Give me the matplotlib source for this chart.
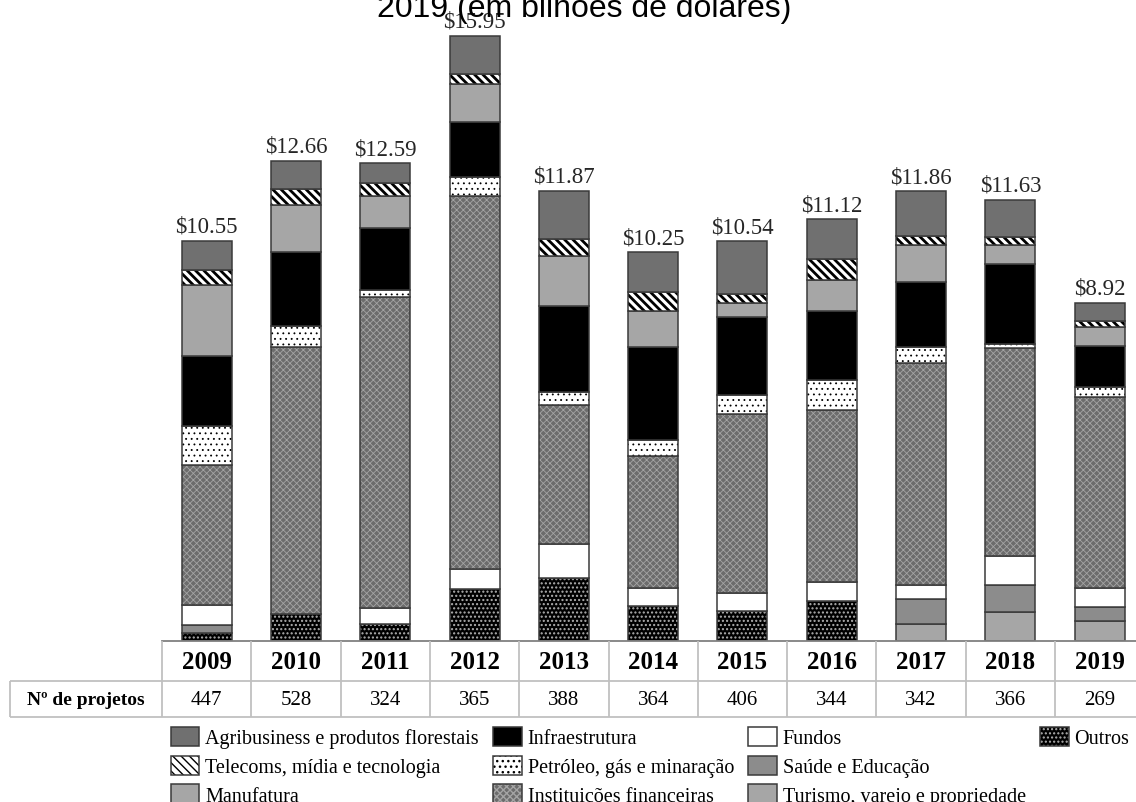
import matplotlib.pyplot as plt
from matplotlib.patches import Rectangle
import numpy as np

# data (values in US$ billions)
anos = ['2009', '2010', '2011', '2012', '2013', '2014', '2015', '2016', '2017', '2018', '2019']
projetos = [447, 528, 324, 365, 388, 364, 406, 344, 342, 366, 269]
totais = [10.55, 12.66, 12.59, 15.95, 11.87, 10.25, 10.54, 11.12, 11.86, 11.63, 8.92]

outros = [0.20, 0.70, 0.44, 1.38, 1.66, 0.93, 0.78, 1.06, 0, 0, 0]
turismo = [0, 0, 0, 0, 0, 0, 0, 0, 0.44, 0.77, 0.53]
saude = [0.21, 0, 0, 0, 0, 0, 0, 0, 0.66, 0.71, 0.37]
fundos = [0.53, 0, 0.44, 0.51, 0.89, 0.48, 0.49, 0.50, 0.38, 0.77, 0.51]
financeiras = [3.70, 7.04, 8.19, 9.85, 3.66, 3.47, 4.72, 4.52, 5.86, 5.48, 5.01]
petroleo = [1.04, 0.57, 0.19, 0.48, 0.35, 0.42, 0.49, 0.79, 0.42, 0.09, 0.27]
infra = [1.83, 1.95, 1.63, 1.45, 2.26, 2.44, 2.07, 1.83, 1.71, 2.12, 1.08]
manufatura = [1.88, 1.24, 0.84, 1.01, 1.32, 0.97, 0.35, 0.81, 0.98, 0.51, 0.51]
telecom = [0.40, 0.42, 0.34, 0.27, 0.46, 0.50, 0.26, 0.56, 0.24, 0.21, 0.15]
agri = [0.76, 0.74, 0.52, 1.00, 1.27, 1.04, 1.38, 1.05, 1.17, 0.97, 0.49]

# stacking order, bottom to top
setores = ['Outros', 'Turismo, varejo e propriedade', 'Saúde e Educação', 'Fundos',
           'Instituições financeiras', 'Petróleo, gás e minaração', 'Infraestrutura',
           'Manufatura', 'Telecoms, mídia e tecnologia', 'Agribusiness e produtos florestais']
valores = [outros, turismo, saude, fundos, financeiras, petroleo, infra, manufatura, telecom, agri]

# face colour, hatch, hatch colour, hatch linewidth
estilos = [
    ('black', '....', '#b0b0b0', 1.0),
    ('#a6a6a6', None, 'none', 1.0),
    ('#8c8c8c', None, 'none', 1.0),
    ('white', None, 'none', 1.0),
    ('#6c6c6c', 'xxxxx', '#a4a4a4', 0.6),
    ('white', '...', 'black', 0.6),
    ('black', None, 'none', 1.0),
    ('#a6a6a6', None, 'none', 1.0),
    ('white', '\\\\\\\\', 'black', 2.0),
    ('#707070', None, 'none', 1.0),
]
contorno = '#3a3a3a'
serif = 'Liberation Serif'

W, H = 1136, 803
fig = plt.figure(figsize=(W / 100, H / 100), dpi=100)

base_px = 642      # baseline, pixels from top
ppu = 37.93        # pixels per billion
col0, colw = 162, 89.3
ytop = 16.6
ax = fig.add_axes([col0 / W, (H - base_px) / H, colw * 11 / W, ytop * ppu / H])
ax.set_xlim(-0.5, 10.5)
ax.set_ylim(0, ytop)
ax.patch.set_visible(False)
for s in ['top', 'left', 'right']:
    ax.spines[s].set_visible(False)
ax.spines['bottom'].set_color('#808080')
ax.spines['bottom'].set_linewidth(1.3)
ax.set_xticks([])
ax.set_yticks([])

x = np.arange(len(anos))
base = np.zeros(len(anos))
handles = []
for nome, vals, (fc, h, hc, hlw) in zip(setores, valores, estilos):
    vals = np.array(vals, dtype=float)
    m = vals > 0
    plt.rcParams['hatch.linewidth'] = hlw
    b = ax.bar(x[m], vals[m], 0.56, bottom=base[m], color=fc, edgecolor=hc, hatch=h, linewidth=0)
    for p in b.patches:
        if hasattr(p, 'set_hatch_linewidth'):
            p.set_hatch_linewidth(hlw)
    ax.bar(x[m], vals[m], 0.56, bottom=base[m], fill=False, edgecolor=contorno, linewidth=1.1)
    base += vals
    f = Rectangle((0, 0), 1, 1, facecolor=fc, edgecolor=hc, hatch=h, linewidth=0)
    if hasattr(f, 'set_hatch_linewidth'):
        f.set_hatch_linewidth(hlw)
    o = Rectangle((0, 0), 1, 1, fill=False, edgecolor=contorno, linewidth=1.1)
    handles.append(((f, o), nome))

# value labels on top of bars
for i, t in enumerate(totais):
    ax.annotate(f'${t:.2f}', (x[i], base[i]), xytext=(0, 6.5), textcoords='offset points',
                ha='center', va='baseline', fontsize=16.5, family=serif, color='#262626')

# title (first line falls outside the picture)
fig.text(0.514, 1 - 17 / H, '2019 (em bilhões de dólares)', ha='center', va='baseline',
         fontsize=23, family='Liberation Sans')

# data table below the bars
tab = fig.add_axes([0, 0, 1, 1])
tab.set_xlim(0, W)
tab.set_ylim(H, 0)
tab.axis('off')
grade = '#c0c0c0'
y_div, y_fim = 682, 718
tab.hlines(y_div, 10, W, color=grade, lw=1.3)
tab.hlines(y_fim, 10, W, color=grade, lw=1.3)
tab.vlines(10, y_div, y_fim, color=grade, lw=1.3)
for k in range(len(anos) + 1):
    tab.vlines(col0 + colw * k, base_px, y_fim, color=grade, lw=1.3)
for i, (a, n) in enumerate(zip(anos, projetos)):
    cx = col0 + colw * (i + 0.5)
    tab.text(cx, (base_px + y_div) / 2 + 1, a, ha='center', va='center',
             fontsize=18, fontweight='bold', family=serif)
    tab.text(cx, (y_div + y_fim) / 2 + 1, str(n), ha='center', va='center',
             fontsize=15, family=serif)
tab.text((10 + col0) / 2, (y_div + y_fim) / 2 + 1, 'Nº de projetos', ha='center', va='center',
         fontsize=14, fontweight='bold', family=serif)

# legend: columns read top to bottom, stacking order reversed
ordem = handles[::-1]
vazio = Rectangle((0, 0), 1, 1, visible=False)
hs = [h for h, _ in ordem] + [vazio, vazio]
ls = [l for _, l in ordem] + ['', '']
fig.legend(hs, ls, loc='upper left', bbox_to_anchor=(171 / W, 1 - 728 / H), ncol=4,
           frameon=False, prop={'family': serif, 'size': 14.5}, handlelength=1.4,
           handleheight=1.08, handletextpad=0.3, labelspacing=0.36, columnspacing=0.72,
           borderpad=0, borderaxespad=0)

fig.savefig('out.png', dpi=100)
